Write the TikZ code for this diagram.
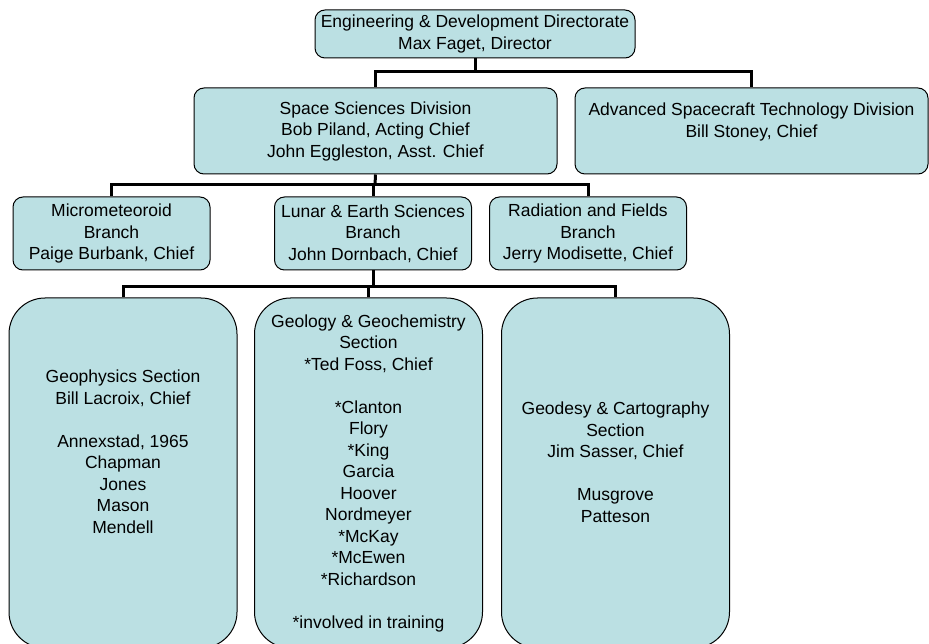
\documentclass[tikz,border=0pt]{standalone}
\usepackage{fontspec}
\setmainfont{Liberation Sans}
\usepackage{tikz}
\definecolor{boxfill}{HTML}{BBE0E3}

\begin{document}
\begin{tikzpicture}[x=1pt,y=-1pt]
% Define styles
\tikzstyle{unit} = [rectangle, rounded corners=10pt, draw, line width=1pt, fill=boxfill, align=center, inner sep=0pt, font=\fontsize{17.5}{21.5}\selectfont]
\tikzstyle{branch} = [unit, minimum width=197pt, minimum height=73pt]
\tikzstyle{section} = [unit, rounded corners=36pt, minimum width=228pt, minimum height=350pt]
\tikzstyle{bus} = [line width=3pt]
\useasboundingbox (0,0) rectangle (929,644);
% Define nodes
\node[unit, minimum width=320pt, minimum height=48pt] (eng) at (475,34) {Engineering \& Development Directorate\\Max Faget, Director};
\node[unit, minimum width=363pt, minimum height=86pt] (ssd) at (375.5,131) {Space Sciences Division\\Bob Piland, Acting Chief\\John Eggleston, Asst. Chief};
\node[unit, minimum width=353pt, minimum height=86pt] (astd) at (751.5,131) {Advanced Spacecraft Technology Division\\Bill Stoney, Chief\\\mbox{}};
\node[branch] (micro) at (111.5,233.5) {Micrometeoroid\\Branch\\Paige Burbank, Chief};
\node[branch] (lunar) at (373,233.5) {Lunar \& Earth Sciences\\Branch\\John Dornbach, Chief};
\node[branch] (rad) at (588,233.5) {Radiation and Fields\\Branch\\Jerry Modisette, Chief};
\node[section] (geoph) at (123,473) {Geophysics Section\\Bill Lacroix, Chief\\\mbox{}\\Annexstad, 1965\\Chapman\\Jones\\Mason\\Mendell\\\mbox{}\\\mbox{}};
\node[section] (geol) at (368.5,473) {Geology \& Geochemistry\\Section\\*Ted Foss, Chief\\\mbox{}\\*Clanton\\Flory\\*King\\Garcia\\Hoover\\Nordmeyer\\*McKay\\*McEwen\\*Richardson\\\mbox{}\\*involved in training};
\node[section] (geod) at (615.5,473) {Geodesy \& Cartography\\Section\\Jim Sasser, Chief\\\mbox{}\\Musgrove\\Patteson\\\mbox{}};

% Connect the nodes
\coordinate (bus1) at (475,72);
\coordinate (bus2) at (375,185);
\coordinate (bus3) at (373,287);
\draw[bus] (eng.south) -- (bus1);
\draw[bus] (bus1) -| (ssd.north);
\draw[bus] (bus1) -| (astd.north);
\draw[bus] (ssd.south) -- (bus2);
\draw[bus] (bus2) -| (micro.north);
\draw[bus] (bus2) -| (lunar.north);
\draw[bus] (bus2) -| (rad.north);
\draw[bus] (lunar.south) -- (bus3);
\draw[bus] (bus3) -| (geoph.north);
\draw[bus] (bus3) -| (geol.north);
\draw[bus] (bus3) -| (geod.north);

\end{tikzpicture}
\end{document}
